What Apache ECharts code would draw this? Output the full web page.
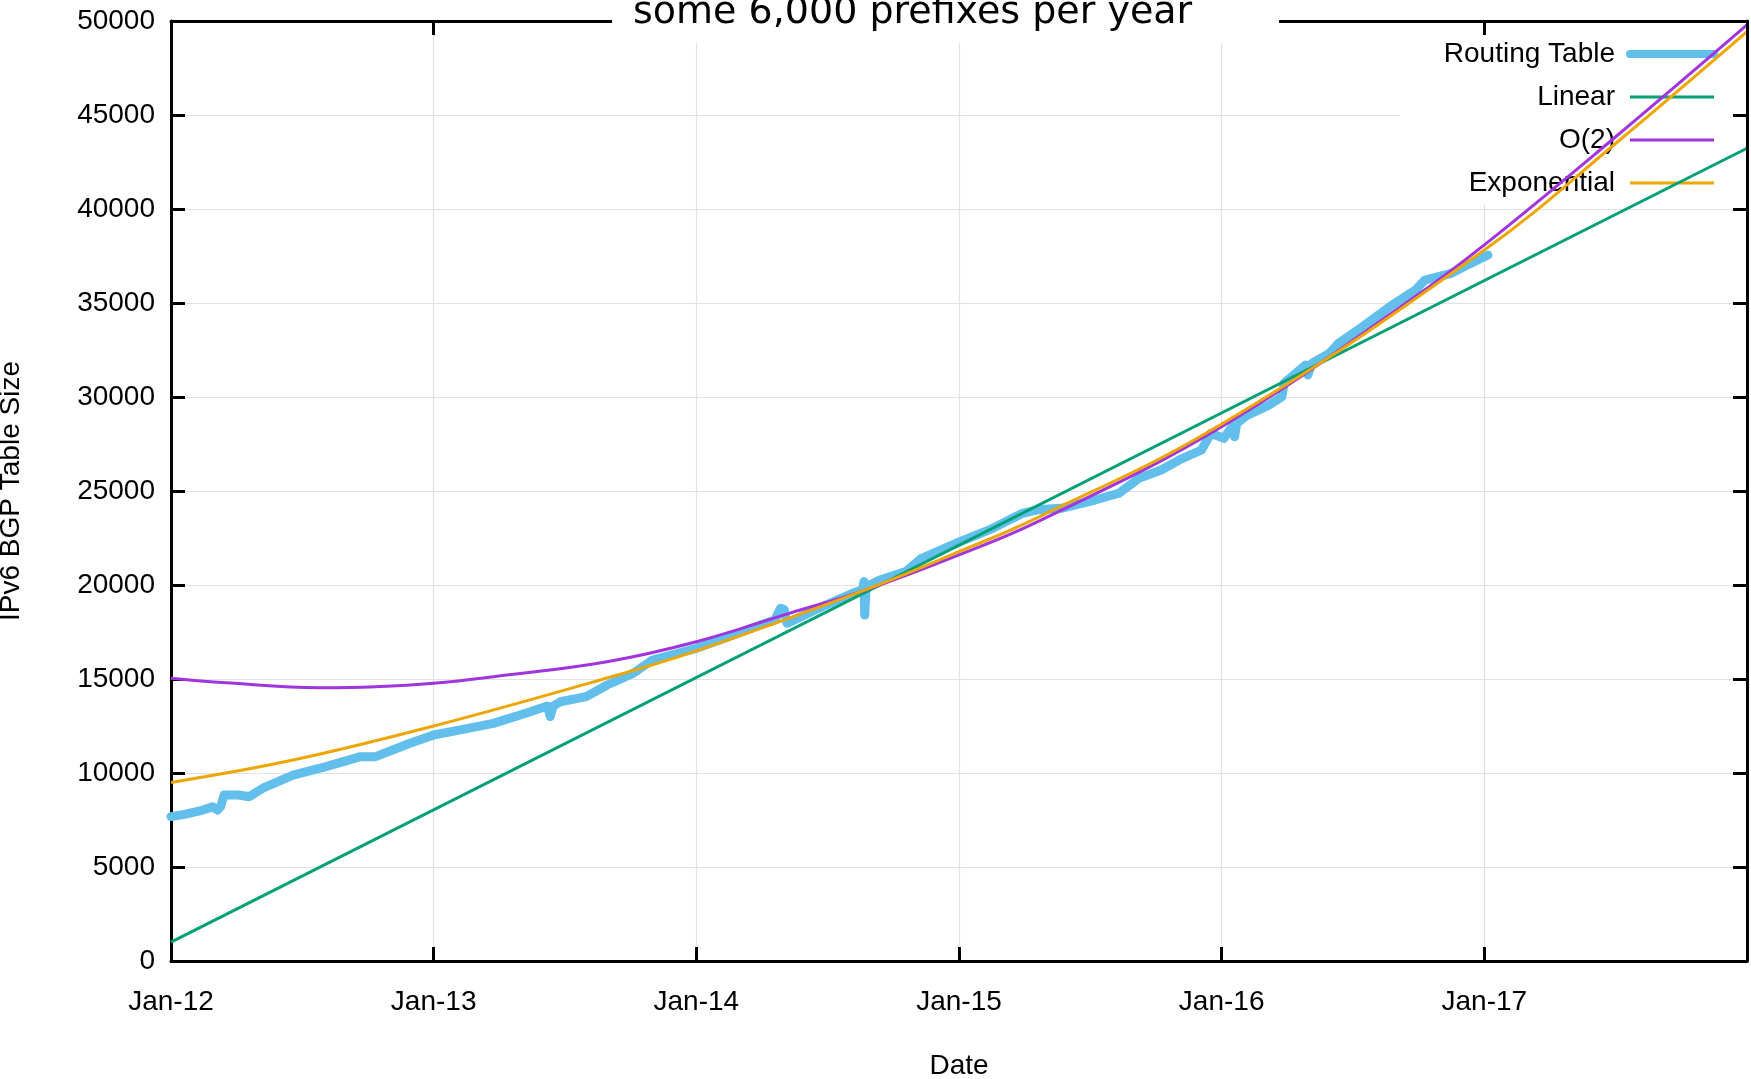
<!DOCTYPE html>
<html>
<head>
<meta charset="utf-8">
<script src="https://cdn.jsdelivr.net/npm/echarts@6/dist/echarts.min.js"></script>
<style>
html,body{margin:0;padding:0;background:#fff;}
#chart{width:1751px;height:1079px;}
</style>
</head>
<body>
<div id="chart"></div>
<script>
// ---- data ----
const titleText = 'some 6,000 prefixes per year';
const seriesNames = ['Routing Table', 'Linear', 'O(2)', 'Exponential'];
const xTickLabels = ['Jan-12', 'Jan-13', 'Jan-14', 'Jan-15', 'Jan-16', 'Jan-17', ''];
const xMinYear = 2012, xMaxYear = 2018;
const yMin = 0, yMax = 50000, yStep = 5000;

const rtDates = ['2012-01-01','2012-01-20','2012-02-10','2012-02-28','2012-03-06','2012-03-10','2012-03-15','2012-04-04','2012-04-19','2012-05-08','2012-06-19','2012-08-04','2012-09-21','2012-10-12','2012-11-29','2013-01-01','2013-02-07','2013-03-25','2013-05-09','2013-06-08','2013-06-12','2013-06-16','2013-06-26','2013-08-01','2013-08-30','2013-10-05','2013-11-01','2014-01-01','2014-02-15','2014-03-24','2014-04-20','2014-04-28','2014-05-03','2014-05-07','2014-06-25','2014-08-06','2014-08-20','2014-08-22','2014-08-23','2014-08-25','2014-09-13','2014-10-19','2014-11-10','2014-12-28','2015-02-12','2015-03-30','2015-04-20','2015-05-23','2015-07-09','2015-08-11','2015-09-08','2015-10-09','2015-11-03','2015-12-04','2015-12-17','2016-01-04','2016-01-17','2016-01-19','2016-01-22','2016-02-06','2016-03-07','2016-03-25','2016-03-28','2016-04-27','2016-04-30','2016-05-06','2016-05-30','2016-06-12','2016-07-14','2016-08-22','2016-09-27','2016-10-10','2016-11-16','2016-12-13','2017-01-06'];
const rtValues = [7680,7800,7980,8200,8030,8200,8830,8830,8740,9190,9890,10340,10870,10870,11580,12020,12290,12640,13180,13560,13000,13560,13790,14060,14680,15300,16010,16630,17250,17780,18140,18760,18700,17960,18850,19560,19750,20180,18400,19900,20270,20710,21420,22220,22930,23810,24000,24080,24520,24880,25670,26120,26650,27180,28070,27800,28510,27890,28600,29040,29570,30020,30730,31700,31170,31800,32320,32860,33700,34800,35690,36220,36580,37110,37550];

const linDates = ['2012-01-01', '2018-01-01'];
const linValues = [1000, 43230];

const quadDates = ['2012-01-01','2012-03-17','2012-07-27','2012-10-12','2013-01-01','2013-03-25','2013-08-30','2014-01-01','2014-05-10','2014-08-24','2015-01-01','2015-04-22','2016-01-01','2016-09-20','2017-01-01','2017-06-26','2018-01-01'];
const quadValues = [15040,14800,14540,14590,14770,15120,15920,16980,18490,19730,21600,23400,28420,35160,38090,43630,49790];

const expDates = ['2012-01-01','2012-06-19','2013-01-01','2013-08-24','2014-01-01','2014-08-23','2015-01-01','2015-04-21','2016-01-01','2017-01-01','2017-07-07','2018-01-01'];
const expValues = [9500,10690,12500,14990,16500,19730,21770,23600,28560,37820,43630,49430];

const colors = ['#62bfec', '#00a077', '#a134dd', '#eda600'];

// ---- helpers ----
function toYear(s) {
  const p = s.split('-').map(Number);
  const start = Date.UTC(p[0], 0, 1), end = Date.UTC(p[0] + 1, 0, 1);
  return p[0] + (Date.UTC(p[0], p[1] - 1, p[2]) - start) / (end - start);
}
function pairs(dates, values) {
  return dates.map((d, i) => [toYear(d), values[i]]);
}

const FONT = 'Liberation Sans';
const FS = 28;
const AX = '#000';
const AXW = 3;
const chart = echarts.init(document.getElementById('chart'), null, {renderer: 'canvas'});

const baseX = {type: 'value', min: xMinYear, max: xMaxYear, interval: 1, gridIndex: 0};
const baseY = {type: 'value', min: yMin, max: yMax, interval: yStep, gridIndex: 0};

chart.setOption({
  animation: false,
  backgroundColor: '#fff',
  grid: {left: 171, right: 4, top: 21, bottom: 118, containLabel: false, outerBoundsMode: 'none'},
  xAxis: [
    Object.assign({}, baseX, {
      position: 'bottom', z: 0,
      name: 'Date', nameLocation: 'middle', nameGap: 91,
      nameTextStyle: {fontFamily: FONT, fontSize: FS, color: '#000'},
      axisLine: {show: true, onZero: false, lineStyle: {color: AX, width: AXW}},
      axisTick: {show: true, inside: true, length: 14, lineStyle: {color: AX, width: AXW}},
      axisLabel: {show: true, margin: 27, fontFamily: FONT, fontSize: FS, color: '#000',
        showMaxLabel: false,
        formatter: v => xTickLabels[Math.round(v - xMinYear)] || ''},
      splitLine: {show: true, lineStyle: {color: '#e2e2e2', width: 1.2}}
    }),
    Object.assign({}, baseX, {
      position: 'top', z: 5,
      axisLine: {show: true, onZero: false, lineStyle: {color: AX, width: AXW}},
      axisTick: {show: true, inside: true, length: 14, lineStyle: {color: AX, width: AXW}},
      axisLabel: {show: false},
      splitLine: {show: false}
    })
  ],
  yAxis: [
    Object.assign({}, baseY, {
      position: 'left', z: 0,
      name: 'IPv6 BGP Table Size', nameLocation: 'middle', nameGap: 146, nameRotate: 90,
      nameTextStyle: {fontFamily: FONT, fontSize: FS, color: '#000'},
      axisLine: {show: true, onZero: false, lineStyle: {color: AX, width: AXW}},
      axisTick: {show: true, inside: true, length: 14, lineStyle: {color: AX, width: AXW}},
      axisLabel: {show: true, margin: 16, fontFamily: FONT, fontSize: FS, color: '#000',
        formatter: v => String(v)},
      splitLine: {show: true, lineStyle: {color: '#e2e2e2', width: 1.2}}
    }),
    Object.assign({}, baseY, {
      position: 'right', z: 5,
      axisLine: {show: true, onZero: false, lineStyle: {color: AX, width: AXW}},
      axisTick: {show: true, inside: true, length: 14, lineStyle: {color: AX, width: AXW}},
      axisLabel: {show: false},
      splitLine: {show: false}
    })
  ],
  legend: {
    orient: 'vertical', right: 4, top: 21, align: 'right',
    itemWidth: 84, itemHeight: 14, itemGap: 13,
    padding: [18, 29, 6, 44],
    backgroundColor: '#fff', z: 1,
    selectedMode: false,
    itemStyle: {opacity: 0},
    textStyle: {fontFamily: FONT, fontSize: FS, color: '#000', lineHeight: 30, padding: [0, 10, 0, 0]},
    data: [
      {name: seriesNames[0], itemStyle: {opacity: 0}, lineStyle: {width: 8, color: colors[0]}},
      {name: seriesNames[1], itemStyle: {opacity: 0}, lineStyle: {width: 3, color: colors[1]}},
      {name: seriesNames[2], itemStyle: {opacity: 0}, lineStyle: {width: 3, color: colors[2]}},
      {name: seriesNames[3], itemStyle: {opacity: 0}, lineStyle: {width: 3, color: colors[3]}}
    ]
  },
  graphic: [
    {type: 'rect', z: 100, shape: {x: 612, y: 0, width: 667, height: 43}, style: {fill: '#fff'}},
    {type: 'text', z: 101, x: 633, y: 13,
      style: {text: titleText, fontFamily: 'DejaVu Sans', fontSize: 38, fill: '#000',
        align: 'left', verticalAlign: 'middle'}}
  ],
  series: [
    {name: seriesNames[0], type: 'line', z: 2, symbol: 'none', clip: true,
      color: colors[0], lineStyle: {width: 9, color: colors[0], cap: 'round', join: 'round'},
      data: pairs(rtDates, rtValues)},
    {name: seriesNames[1], type: 'line', z: 3, symbol: 'none', clip: true,
      color: colors[1], lineStyle: {width: 3, color: colors[1]},
      data: pairs(linDates, linValues)},
    {name: seriesNames[2], type: 'line', z: 3, symbol: 'none', clip: true, smooth: 0.4,
      color: colors[2], lineStyle: {width: 3, color: colors[2]},
      data: pairs(quadDates, quadValues)},
    {name: seriesNames[3], type: 'line', z: 3, symbol: 'none', clip: true, smooth: 0.4,
      color: colors[3], lineStyle: {width: 3, color: colors[3]},
      data: pairs(expDates, expValues)}
  ]
});
</script>
</body>
</html>
